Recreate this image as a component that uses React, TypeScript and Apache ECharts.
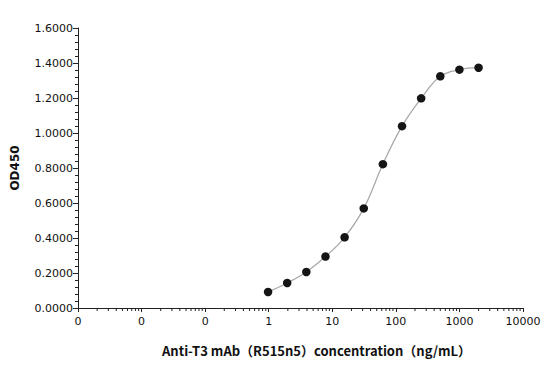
import React, { useEffect, useRef } from "react";
import * as echarts from "echarts";

const concentrations = [0.977, 1.953, 3.906, 7.8125, 15.625, 31.25, 62.5, 125, 250, 500, 1000, 2000];
const od450 = [0.0915, 0.143, 0.206, 0.294, 0.404, 0.569, 0.822, 1.039, 1.198, 1.324, 1.362, 1.373];
const minorTickValues = [
  0.002, 0.003, 0.004, 0.005, 0.006, 0.007, 0.008, 0.009,
  0.02, 0.03, 0.04, 0.05, 0.06, 0.07, 0.08, 0.09,
  0.2, 0.3, 0.4, 0.5, 0.6, 0.7, 0.8, 0.9,
  2, 3, 4, 5, 6, 7, 8, 9,
  20, 30, 40, 50, 60, 70, 80, 90,
  200, 300, 400, 500, 600, 700, 800, 900,
  2000, 3000, 4000, 5000, 6000, 7000, 8000, 9000,
];
const xTitle = "Anti-T3 mAb（R515n5）concentration（ng/mL）";
const yTitle = "OD450";

export default function App() {
  const ref = useRef<HTMLDivElement>(null);
  useEffect(() => {
    if (!ref.current) return;
    const chart = echarts.init(ref.current, null, { renderer: "svg" });
    const pts = concentrations.map((c, i) => [c, od450[i]]);
    const axisColor = "#222";
    chart.setOption({
      animation: false,
      backgroundColor: "#fff",
      grid: { left: 78, right: 33, top: 28, bottom: 59, containLabel: false },
      xAxis: {
        type: "log",
        logBase: 10,
        min: 0.001,
        max: 10000,
        splitNumber: 7,
        name: xTitle,
        nameLocation: "middle",
        nameGap: 36,
        nameTextStyle: {
          fontFamily: "Noto Sans CJK JP",
          fontWeight: "bold",
          fontSize: 13,
          color: "#111",
          padding: [0, 0, 0, 32],
        },
        axisLine: { show: true, onZero: false, lineStyle: { color: axisColor, width: 1 } },
        axisTick: { show: true, length: 4, lineStyle: { color: axisColor } },
        splitLine: { show: false },
        axisLabel: {
          fontFamily: "DejaVu Sans",
          fontSize: 11,
          color: "#111",
          margin: 8,
          formatter: (v: number) => String(Math.round(v)),
        },
      },
      yAxis: {
        type: "value",
        min: 0,
        max: 1.6,
        interval: 0.2,
        name: yTitle,
        nameLocation: "middle",
        nameGap: 57,
        nameTextStyle: {
          fontFamily: "DejaVu Sans",
          fontWeight: "bold",
          fontSize: 12,
          color: "#111",
        },
        axisLine: { show: true, lineStyle: { color: axisColor, width: 1 } },
        axisTick: { show: true, length: 5, lineStyle: { color: axisColor } },
        minorTick: { show: true, splitNumber: 5, length: 3, lineStyle: { color: axisColor } },
        splitLine: { show: false },
        axisLabel: {
          fontFamily: "DejaVu Sans",
          fontSize: 11,
          color: "#111",
          margin: 5,
          formatter: (v: number) => v.toFixed(4),
        },
      },
      series: [
        {
          type: "custom",
          silent: true,
          clip: false,
          data: minorTickValues.map((v) => [v, 0]),
          renderItem: (params: any, api: any) => {
            const p = api.coord([api.value(0), 0]);
            return {
              type: "line",
              shape: { x1: p[0], y1: p[1], x2: p[0], y2: p[1] + 3 },
              style: { stroke: axisColor, lineWidth: 1 },
            };
          },
        },
        {
          type: "line",
          data: pts,
          smooth: 0.4,
          showSymbol: false,
          lineStyle: { color: "#aaa", width: 1.3 },
          z: 2,
        },
        {
          type: "scatter",
          data: pts,
          symbol: "circle",
          symbolSize: 8.5,
          itemStyle: { color: "#151515", opacity: 1 },
          z: 3,
        },
      ],
    });
    return () => chart.dispose();
  }, []);
  return <div ref={ref} style={{ width: 556, height: 367, position: "absolute", left: 0, top: 0 }} />;
}
